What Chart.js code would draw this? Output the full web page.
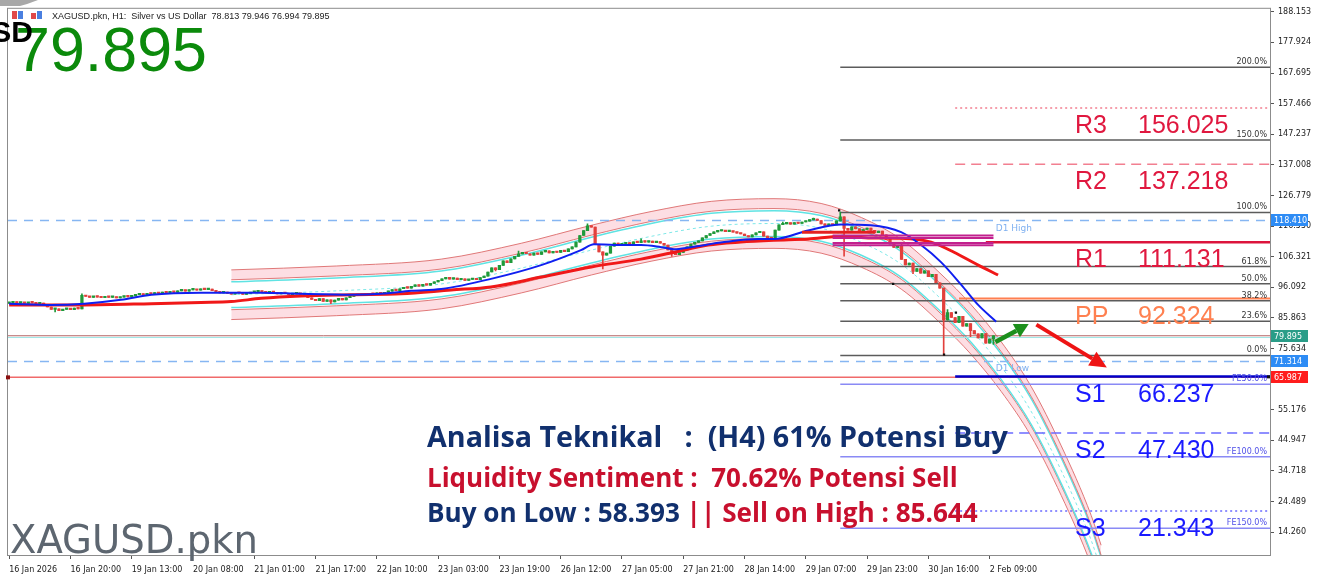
<!DOCTYPE html>
<html><head><meta charset="utf-8">
<script src="https://cdn.jsdelivr.net/npm/chart.js@4.4.1/dist/chart.umd.min.js"></script>
<style>html,body{margin:0;padding:0;background:#fff;}canvas{display:block;}</style>
</head><body>
<canvas id="c" width="1320" height="580"></canvas>
<script>
// ---------------- DATA ----------------
const xTickLabels = ['16 Jan 2026','16 Jan 20:00','19 Jan 13:00','20 Jan 08:00','21 Jan 01:00','21 Jan 17:00','22 Jan 10:00','23 Jan 03:00','23 Jan 19:00','26 Jan 12:00','27 Jan 05:00','27 Jan 21:00','28 Jan 14:00','29 Jan 07:00','29 Jan 23:00','30 Jan 16:00','2 Feb 09:00'];
const barsPerLabel = 16;
const yTickValues = [188.153,177.924,167.695,157.466,147.237,137.008,126.779,116.550,106.321,96.092,85.863,75.634,65.405,55.176,44.947,34.718,24.489,14.260];

const firstOpen = 90.7;
const closes = [
 90.9,91.2,90.8,91.0,90.7,91.1,90.9,90.6,90.8,90.3,89.5,88.7,88.9,88.3,88.7,89.0,
 88.6,89.1,88.9,93.4,93.0,92.7,93.1,92.8,92.6,93.0,92.7,92.9,92.5,92.8,93.1,92.9,
 93.2,93.6,93.9,93.5,94.1,93.8,94.3,94.0,94.5,94.2,94.6,94.4,94.9,95.1,94.8,95.2,
 95.4,95.1,95.6,95.3,95.5,95.0,94.6,94.2,94.5,94.0,93.8,94.3,94.1,93.7,94.0,94.4,
 94.6,94.9,94.5,94.2,94.6,94.3,93.9,94.2,94.0,93.6,93.9,94.1,93.7,93.3,92.6,92.0,
 91.6,92.3,91.4,91.9,91.2,91.8,92.4,91.9,92.6,93.0,93.6,93.3,93.8,93.5,94.0,93.7,
 94.2,93.9,94.4,94.8,95.3,95.0,95.6,96.1,95.8,96.4,96.9,96.5,97.1,96.8,97.4,97.9,
 98.3,98.9,99.4,98.8,99.2,98.6,98.9,98.4,98.7,99.0,98.6,99.3,99.8,101.2,102.6,102.0,
 103.4,104.9,104.3,105.6,106.4,107.2,107.8,107.3,106.8,107.5,107.1,107.9,108.3,107.6,108.1,107.7,
 108.4,108.0,108.9,109.6,111.2,113.4,115.0,116.6,116.2,110.4,107.9,106.8,107.5,109.8,110.9,110.3,
 110.6,111.0,110.4,111.3,111.0,111.6,111.2,111.5,111.0,111.4,110.8,110.2,108.6,107.4,107.0,107.7,
 108.6,109.6,110.5,111.1,111.6,112.6,113.4,114.0,114.6,114.9,115.0,114.7,114.9,114.5,114.2,113.9,
 113.3,112.9,113.6,114.3,114.6,113.2,112.6,112.4,115.2,117.0,117.3,117.6,117.2,117.7,117.4,117.9,
 118.2,118.6,118.9,118.4,117.3,116.8,117.2,116.9,118.3,119.6,115.8,115.2,116.3,115.6,114.6,115.4,
 115.9,115.1,114.3,114.9,113.6,112.2,110.6,109.4,110.1,105.4,103.6,104.2,101.4,102.3,100.8,101.6,
 99.6,100.4,97.6,95.8,85.2,87.6,86.0,84.3,86.4,83.1,84.0,81.6,80.5,79.2,80.6,77.4,
 78.813,79.895
];
const wickHigh = {19:93.9, 133:108.2, 151:117.3, 165:112.3, 202:117.9, 210:119.2, 217:121.2, 233:110.6, 245:88.6, 257:79.946};
const wickLow  = {12:87.9, 84:90.6, 127:101.6, 155:102.2, 173:106.4, 218:106.5, 236:100.6, 244:73.3, 251:79.6, 257:76.994};

const blueMA = [[0,90.6],[11,90.2],[19.6,90.6],[29.2,91.9],[37.1,93.6],[50.1,94.3],[65.8,94.3],[76.2,93.9],[89.3,93.6],[97.1,93.9],[105,94.9],[112.8,95.5],[125.8,98.9],[138.9,103.5],[149.3,108.5],[152.7,110.5],[158,110.2],[165,110.2],[170.2,109.5],[173.6,108.8],[178,109.5],[186.7,111.2],[195.6,112.2],[199.7,112.2],[208.6,115.1],[217.2,117.1],[225,116.8],[232.9,114.5],[238.1,110.2],[243.3,104.5],[248.6,96.9],[253,90.2],[257.7,84.6]];
const redMA = [[0,90.2],[19.6,90.2],[37.1,90.6],[50.1,91.0],[58,91.3],[65.8,92.4],[76.2,93.2],[89.3,93.6],[102.3,93.9],[115.4,95.2],[125.8,96.2],[138.9,99.5],[152,102.9],[165,105.5],[173.6,107.8],[182.5,110.2],[191,111.2],[199.7,111.8],[208.6,112.2],[217.2,113.1],[225,112.6],[232.9,112.5],[240.7,111.2],[246.7,107.8],[253,103.5],[258.2,100.2]];
const channelMid = [[58,93.6],[85.4,94.9],[112.8,97.2],[133.7,102.5],[152,108.5],[167.6,113.1],[183.3,116.5],[199.7,117.4],[212,115.8],[222.5,111.1],[232.9,103.8],[243.3,92.2],[251.2,81.9],[259,69.6],[266.8,54.7],[274.7,34.8],[282.5,11.6],[285.1,1.6]];

const fibLabels = ['200.0%','150.0%','100.0%','61.8%','50.0%','38.2%','23.6%','0.0%'];
const fibValues = [169.6,145.3,121.1,103.0,97.3,91.6,84.7,73.3];
const feLabels = ['FE50.0%','FE100.0%','FE150.0%'];
const feValues = [63.7,39.5,15.6];
const pivotNames = ['R3','R2','R1','PP','S1','S2','S3'];
const pivotValues = [156.025,137.218,111.131,92.324,66.237,47.430,21.343];
const d1High = 118.410, d1Low = 71.314;
const bidPrice = 79.895, askLine = 79.3, fePriceLine = 65.987;
const orderLines = [113.4,112.6,110.9,110.1];
const sellLine = 114.5;
const zigzagDots = [[216.7,121.8],[230.8,97.2],[244.1,73.6],[247.2,87.6]];
const priceTags = [118.410, 79.895, 71.314, 65.987];
const arrowUp = [[257.5,77.8],[266.2,83.8]];
const arrowDown = [[268.2,83.6],[286.6,69.3]];
const headerText = 'XAGUSD.pkn, H1:  Silver vs US Dollar  78.813 79.946 76.994 79.895';
const bigPrice = '79.895';
const symbolName = 'XAGUSD.pkn';
const line1 = 'Analisa Teknikal   :  (H4) 61% Potensi Buy';
const line2 = 'Liquidity Sentiment :  70.62% Potensi Sell';
const line3a = 'Buy on Low : 58.393 ';
const line3b = '|| Sell on High : 85.644';

// ---------------- BUILD ----------------
const X_MIN = -0.3, X_MAX = 329.2;
const opens = closes.map((c,i)=> i===0 ? firstOpen : closes[i-1]);
const bodies = closes.map((c,i)=>({x:i, y:[opens[i], c]}));
const wicks = closes.map((c,i)=>({x:i, y:[wickLow[i] ?? Math.min(opens[i],c), wickHigh[i] ?? Math.max(opens[i],c)]}));
const candleColors = closes.map((c,i)=> c>=opens[i] ? '#1f9a3a' : '#e2403c');

const pts = arr => arr.map(p=>({x:p[0], y:p[1]}));
const shift = (arr,d) => arr.map(p=>({x:p[0], y:p[1]+d}));
const hline = (v,x0,x1) => [{x:x0,y:v},{x:x1,y:v}];

const datasets = [];
function add(ds){ datasets.push(ds); return datasets.length-1; }
const L = (data, color, width, extra) => Object.assign({type:'line', data, borderColor:color, borderWidth:width, pointRadius:0, fill:false, tension:0}, extra||{});

// channel (bottom layer)
const CH_OUT = 8.3, CH_IN = 5.0, CH_CY = 4.3;
const smooth = {cubicInterpolationMode:'monotone', order:100};
const iTopOut = add(L(shift(channelMid, CH_OUT), '#e07878', 1, smooth));
add(L(shift(channelMid, CH_IN), '#e07878', 1, Object.assign({fill:{target:iTopOut}, backgroundColor:'rgba(250,185,196,0.48)'}, smooth)));
add(L(shift(channelMid, CH_CY), '#5fe3e3', 1.5, smooth));
add(L(shift(channelMid, 0), '#7fe8e8', 1, Object.assign({borderDash:[3,3]}, smooth)));
add(L(shift(channelMid, -CH_CY), '#5fe3e3', 1.5, smooth));
const iBotIn = add(L(shift(channelMid, -CH_IN), '#e07878', 1, smooth));
add(L(shift(channelMid, -CH_OUT), '#e07878', 1, Object.assign({fill:{target:iBotIn}, backgroundColor:'rgba(250,185,196,0.48)'}, smooth)));

// horizontal levels
const o90 = {order:90};
add(L(hline(d1High, X_MIN, X_MAX), '#86b6f2', 1.5, {borderDash:[9,7], order:90}));
add(L(hline(d1Low, X_MIN, X_MAX), '#86b6f2', 1.5, {borderDash:[9,7], order:90}));
add(L(hline(askLine, X_MIN, X_MAX), '#9fe6e6', 1, o90));
add(L(hline(bidPrice, X_MIN, X_MAX), '#b46464', 1, o90));
add(L(hline(fePriceLine, X_MIN, X_MAX), '#f06a6a', 1.5, o90));
fibValues.forEach(v=>add(L(hline(v, 217, X_MAX), '#5c5c5c', 1.5, o90)));
feValues.forEach(v=>add(L(hline(v, 217, X_MAX), '#8a8af5', 1.5, o90)));
const pivStyles = [
  ['#f27f90',1.5,[2,3],247],['#f27f90',1.5,[10,6],247],['#dc143c',2.5,[],255],
  ['#ff7f50',2,[],248],['#0000c8',2.5,[],247],['#6b6bff',1.5,[10,6],247],['#6b6bff',1.5,[2,3],247]];
pivotValues.forEach((v,i)=>{const s=pivStyles[i]; add(L(hline(v, s[3], X_MAX), s[0], s[1], {borderDash:s[2], order:85}));});

// order lines
orderLines.forEach(v=>add(L(hline(v, 215, 257), '#c2208e', 2, {order:20})));
add(L(hline(sellLine, 207, 226), '#e42020', 3, {order:20}));

// candles
add({type:'bar', data:wicks, backgroundColor:candleColors, barThickness:1, grouped:false, minBarLength:1, order:50});
add({type:'bar', data:bodies, backgroundColor:candleColors, barThickness:2.6, grouped:false, minBarLength:1.5, order:45});

// moving averages
add(L(pts(redMA), '#f01818', 3, {cubicInterpolationMode:'monotone', order:31}));
add(L(pts(blueMA), '#1020f0', 2, {cubicInterpolationMode:'monotone', order:30}));

// zigzag dots
add({type:'scatter', data:pts(zigzagDots), pointStyle:'rect', pointRadius:1.6, backgroundColor:'#111', borderWidth:0, order:10});

// ---------------- OVERLAY ----------------
function fitSize(ctx, text, weight, family, target){
  ctx.font = `${weight} 100px ${family}`;
  return 100*target/ctx.measureText(text).width;
}
function arrow(ctx, p0, p1, color, w, head, headW){
  const a = Math.atan2(p1.y-p0.y, p1.x-p0.x);
  const bx = p1.x - head*Math.cos(a), by = p1.y - head*Math.sin(a);
  ctx.strokeStyle = color; ctx.fillStyle = color; ctx.lineWidth = w; ctx.lineCap='butt';
  ctx.beginPath(); ctx.moveTo(p0.x,p0.y); ctx.lineTo(bx,by); ctx.stroke();
  ctx.beginPath(); ctx.moveTo(p1.x,p1.y);
  ctx.lineTo(bx + headW*0.5*Math.sin(a), by - headW*0.5*Math.cos(a));
  ctx.lineTo(bx - headW*0.5*Math.sin(a), by + headW*0.5*Math.cos(a));
  ctx.closePath(); ctx.fill();
}
const overlay = {
  id:'overlay',
  beforeDraw(chart){ const c=chart.ctx; c.save(); c.fillStyle='#fff'; c.fillRect(0,0,chart.width,chart.height); c.restore(); },
  afterDraw(chart){
    const ctx = chart.ctx, xs = chart.scales.x, ys = chart.scales.y, ca = chart.chartArea;
    const P = (p)=>({x:xs.getPixelForValue(p[0]), y:ys.getPixelForValue(p[1])});
    ctx.save();
    // frame
    ctx.strokeStyle='#8c8c8c'; ctx.lineWidth=1;
    ctx.strokeRect(ca.left-0.5, ca.top-0.5, ca.right-ca.left+1, ca.bottom-ca.top+1);
    // top-left gray tab
    ctx.fillStyle='#a8a8a8'; ctx.beginPath(); ctx.moveTo(0,0); ctx.lineTo(38,0); ctx.quadraticCurveTo(28,4,20,6); ctx.lineTo(0,6); ctx.closePath(); ctx.fill();
    // arrows
    arrow(ctx, P(arrowUp[0]), P(arrowUp[1]), '#1c8f1c', 4.5, 14, 15);
    arrow(ctx, P(arrowDown[0]), P(arrowDown[1]), '#ee1414', 4, 17, 16);
    // fib labels
    ctx.font='8px "DejaVu Sans"'; ctx.fillStyle='#333'; ctx.textAlign='right'; ctx.textBaseline='alphabetic';
    fibValues.forEach((v,i)=>ctx.fillText(fibLabels[i], ca.right-3, ys.getPixelForValue(v)-3));
    ctx.fillStyle='#5050e8';
    feValues.forEach((v,i)=>ctx.fillText(feLabels[i], ca.right-3, ys.getPixelForValue(v)-3));
    // D1 labels
    ctx.textAlign='left'; ctx.font='9px "DejaVu Sans"'; ctx.fillStyle='#7fb0f0';
    ctx.fillText('D1 High', xs.getPixelForValue(257.6), ys.getPixelForValue(d1High)+11);
    ctx.fillText('D1 Low', xs.getPixelForValue(257.6), ys.getPixelForValue(d1Low)+10);
    // pivot labels
    const pivColors = ['#e0183f','#e0183f','#e0183f','#ff8050','#1a1aff','#1a1aff','#1a1aff'];
    ctx.font='25px "Liberation Sans"';
    pivotValues.forEach((v,i)=>{
      const y = ys.getPixelForValue(v)+25; ctx.fillStyle=pivColors[i];
      ctx.fillText(pivotNames[i], ca.right-195, y);
      ctx.fillText(v.toFixed(3), ca.right-132, y);
    });
    // header
    ctx.fillStyle='#e04848'; ctx.fillRect(12,11,5,8); ctx.fillStyle='#4a7fe0'; ctx.fillRect(18,11,5,8);
    ctx.fillStyle='#e04848'; ctx.fillRect(31,13,5,6); ctx.fillStyle='#4a7fe0'; ctx.fillRect(37,11,5,8);
    let s = fitSize(ctx, headerText, 400, '"Liberation Sans"', 278);
    ctx.font = `${s}px "Liberation Sans"`; ctx.fillStyle='#222'; ctx.fillText(headerText, 52, 19);
    // big price
    s = fitSize(ctx, bigPrice, 400, '"Liberation Sans"', 192);
    ctx.font = `${s}px "Liberation Sans"`; ctx.fillStyle='#0b8a0b'; ctx.fillText(bigPrice, 15, 71);
    ctx.font = 'bold 30px "Liberation Sans"'; ctx.fillStyle='#000'; ctx.textAlign='right'; ctx.fillText('XAGUSD', 33, 42);
    ctx.textAlign='left';
    // watermark
    s = fitSize(ctx, symbolName, 400, '"DejaVu Sans"', 248);
    ctx.font = `${s}px "DejaVu Sans"`; ctx.fillStyle='#5d6670'; ctx.fillText(symbolName, 10, 553);
    // analysis block
    s = fitSize(ctx, line1, 700, '"Open Sans"', 581);
    ctx.font = `700 ${s}px "Open Sans"`; ctx.fillStyle='#11306e'; ctx.fillText(line1, 427, 447);
    s = fitSize(ctx, line2, 700, '"Open Sans"', 531);
    ctx.font = `700 ${s}px "Open Sans"`; ctx.fillStyle='#c8102e'; ctx.fillText(line2, 427, 487);
    s = fitSize(ctx, line3a+line3b, 700, '"Open Sans"', 551);
    ctx.font = `700 ${s}px "Open Sans"`; ctx.fillStyle='#11306e'; ctx.fillText(line3a, 427, 522);
    const w3 = ctx.measureText(line3a).width; ctx.fillStyle='#c8102e'; ctx.fillText(line3b, 427+w3, 522);
    // price tags
    const tagColors = ['#2e8cf5','#2a9d88','#2e8cf5','#ff1c1c'];
    ctx.font='8px "DejaVu Sans"'; ctx.textBaseline='middle';
    priceTags.forEach((v,i)=>{
      const y = Math.round(ys.getPixelForValue(v));
      ctx.fillStyle=tagColors[i]; ctx.fillRect(ca.right+1, y-6, 37, 12);
      ctx.fillStyle='#fff'; ctx.fillText(v.toFixed(3), ca.right+4, y+0.5);
    });
    // fe-line end markers
    ctx.fillStyle='#8b1010'; ctx.fillRect(ca.left-2, ys.getPixelForValue(fePriceLine)-2, 4, 4);
    ctx.fillStyle='#111'; ctx.fillRect(ca.right-3, ys.getPixelForValue(fePriceLine)-2, 3, 3);
    ctx.restore();
  }
};

// ---------------- CHART ----------------
new Chart(document.getElementById('c'), {
  type:'bar',
  data:{datasets},
  plugins:[overlay],
  options:{
    responsive:false, animation:false, devicePixelRatio:1,
    layout:{padding:{left:8, top:5, right:0, bottom:0}},
    plugins:{legend:{display:false}, tooltip:{enabled:false}},
    elements:{point:{radius:0}},
    scales:{
      x:{type:'linear', min:X_MIN, max:X_MAX, offset:false,
        grid:{display:true, drawOnChartArea:false, tickLength:4, color:'#555', offset:false},
        border:{color:'#8c8c8c'},
        ticks:{autoSkip:false, maxRotation:0, minRotation:0, align:'start', padding:6, color:'#222', font:{family:'DejaVu Sans', size:8},
          callback:(v)=>{const k=v/barsPerLabel; return Number.isInteger(k)&&xTickLabels[k]?xTickLabels[k]:'';}},
        afterBuildTicks:(s)=>{s.ticks = xTickLabels.map((_,k)=>({value:k*barsPerLabel}));},
        afterFit:(s)=>{s.height=25;}
      },
      y:{position:'right', min:6.63, max:189.15,
        grid:{display:true, drawOnChartArea:false, tickLength:4, color:'#555'},
        border:{color:'#8c8c8c'},
        ticks:{padding:4, color:'#222', font:{family:'DejaVu Sans', size:8}, callback:(v)=>Number(v).toFixed(3)},
        afterBuildTicks:(s)=>{s.ticks = yTickValues.map(v=>({value:v}));},
        afterFit:(s)=>{s.width=50;}
      }
    }
  }
});
</script>
</body></html>
